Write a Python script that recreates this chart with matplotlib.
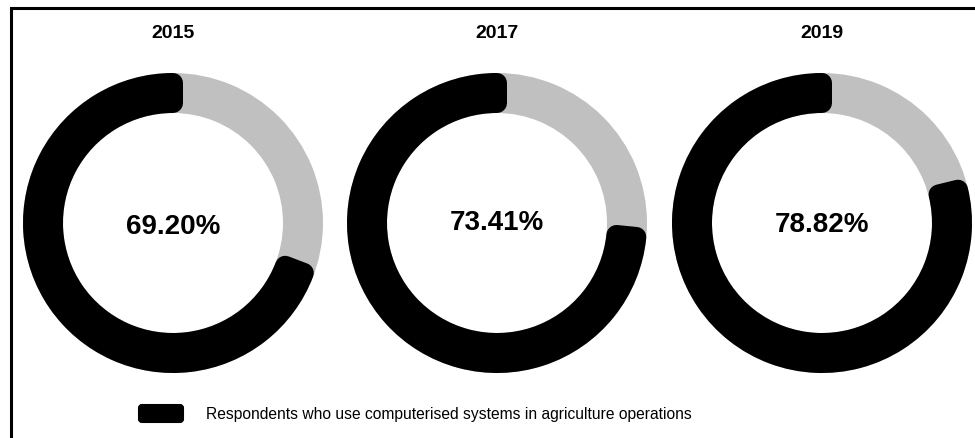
import matplotlib; matplotlib.use("Agg")
import matplotlib.pyplot as plt
from matplotlib.patches import Wedge, FancyBboxPatch

plt.rcParams['font.family'] = ['Liberation Sans', 'DejaVu Sans']

# --- share of respondents using computerised systems (%) ---
years = ["2015", "2017", "2019"]
share = [69.20, 73.41, 78.82]
legend_label = "Respondents who use computerised systems in agriculture operations"

BLACK, GREY = "#000000", "#c0c0c0"
W, H, DPI = 975, 439, 100

fig = plt.figure(figsize=(W / DPI, H / DPI), dpi=DPI)
ax = fig.add_axes([0, 0, 1, 1])
ax.set_xlim(0, W); ax.set_ylim(H, 0); ax.set_aspect("equal"); ax.axis("off")

# work in pixel coordinates
centers_x = [173, 497, 822]
label_y = [227, 223, 225]
cy, r_out, r_in = 224, 150, 110
pad = 10                      # corner rounding of the black arc (px)
lw_pt = 2 * pad * 72 / DPI

for x, ly, yr, v in zip(centers_x, label_y, years, share):
    # grey background ring
    ax.add_patch(Wedge((x, cy), r_out, 0, 360, width=r_out - r_in,
                       facecolor=GREY, edgecolor="none"))
    # black arc from 12 o'clock going counter-clockwise
    a_end = 90 - (100 - v) / 100 * 360      # where the grey part ends (math angle)
    # inverted y-axis -> use negated angles
    t1, t2 = -(a_end + 360), -90
    ax.add_patch(Wedge((x, cy), r_out - pad, t1, t2, width=r_out - r_in - 2 * pad,
                       facecolor=BLACK, edgecolor=BLACK, linewidth=lw_pt,
                       joinstyle="round"))
    ax.text(x, ly, f"{v:.2f}%", ha="center", va="center",
            fontsize=20, fontweight="bold", color="black")
    ax.text(x, 34, yr, ha="center", va="center",
            fontsize=14, fontweight="bold", color="black")

# legend
ax.add_patch(FancyBboxPatch((139, 406), 44, 17,
                            boxstyle="round,pad=0,rounding_size=3",
                            facecolor=BLACK, edgecolor=BLACK, linewidth=1.5))
ax.text(206, 414.5, legend_label, ha="left", va="center", fontsize=11.25, color="black")

# frame (top and left edges only, as in the clipped source)
ax.plot([10.5, 10.5, W], [H, 9, 9], color="black", lw=2.2,
        solid_joinstyle="miter", clip_on=False)

fig.savefig("out.png", dpi=DPI)
